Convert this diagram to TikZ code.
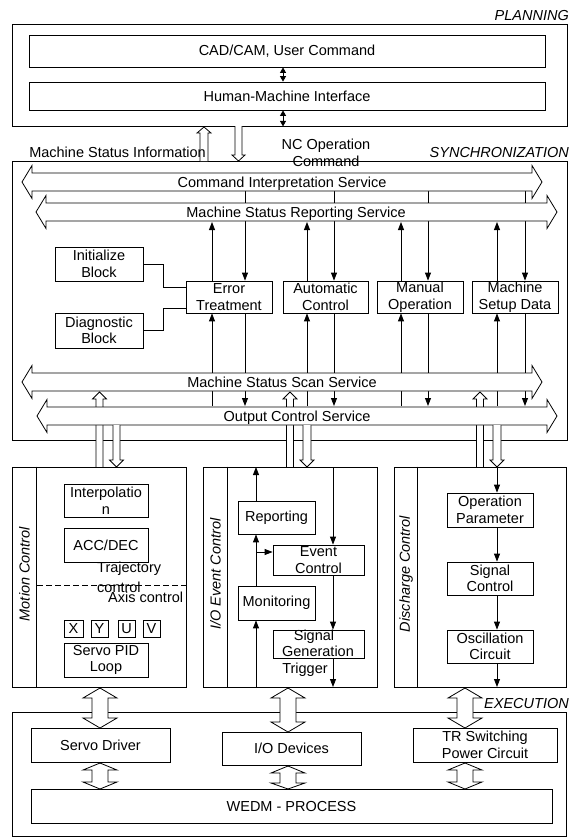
\documentclass[tikz,border=0pt]{standalone}
\usepackage{fontspec}
\setmainfont{Liberation Sans}
\usetikzlibrary{arrows.meta,fit}
\newcommand\fs{\fontsize{14.5}{16.5}\selectfont}
% horizontal hollow double arrow: x1 x2 ycenter
\newcommand\hdarr[3]{%
 \draw[svc] (#1,#3) -- (#1+10,#3-16.5) -- (#1+10,#3-9) -- (#2-10,#3-9) -- (#2-10,#3-16.5) -- (#2,#3) -- (#2-10,#3+16.5) -- (#2-10,#3+9) -- (#1+10,#3+9) -- (#1+10,#3+16.5) -- cycle;}
% vertical hollow single arrow: xc ytail ybase ytip shafthalf headhalf
\newcommand\varr[6]{%
 \draw[svc] (#1-#5,#2) -- (#1-#5,#3) -- (#1-#6,#3) -- (#1,#4) -- (#1+#6,#3) -- (#1+#5,#3) -- (#1+#5,#2);}
% vertical hollow double arrow: xc ytip1 ybase1 ybase2 ytip2 shafthalf headhalf
\newcommand\vdarr[7]{%
 \draw[svc] (#1,#2) -- (#1+#7,#3) -- (#1+#6,#3) -- (#1+#6,#4) -- (#1+#7,#4) -- (#1,#5) -- (#1-#7,#4) -- (#1-#6,#4) -- (#1-#6,#3) -- (#1-#7,#3) -- cycle;}
\tikzset{
 bx/.style={draw, fill=white, inner sep=0pt, align=center, font=\fs, line width=0.8pt},
 bxs/.style 2 args={bx, minimum width=#1pt, minimum height=#2pt},
 sect/.style={draw, inner sep=0pt, line width=0.8pt},
 txt/.style={font=\fs, inner sep=0pt},
 lab/.style={font=\fs\itshape, inner sep=0pt},
 svc/.style={draw, fill=white, line width=0.8pt},
 ar/.style={line width=0.9pt, -{Triangle[length=8pt,width=6pt]}},
 dar/.style={line width=0.9pt, {Triangle[length=5.5pt,width=6pt]}-{Triangle[length=5.5pt,width=6pt]}},
 ln/.style={line width=0.8pt},
 dashln/.style={line width=0.9pt, dash pattern=on 6pt off 3pt}
}
\begin{document}
\begin{tikzpicture}[x=1pt,y=-1pt]
\useasboundingbox (0,0) rectangle (580,839);
% ---------------- PLANNING
\node[sect, fit={(12,24) (567,126)}] (plan) {};
\node[bxs={516}{32}] (cad) at (287,51) {CAD/CAM, User Command};
\node[bxs={516}{28}] (hmi) at (287,96) {Human-Machine Interface};
\coordinate (ax) at (283,0);
\draw[dar] (cad.south -| ax) -- (hmi.north -| ax);
\draw[dar] (hmi.south -| ax) -- (plan.south -| ax);
\node[lab, anchor=base east] (planl) at (569,20) {PLANNING};
% ---------------- SYNCHRONIZATION
\node[txt, align=center] (nc) at (326,153) {NC Operation\\Command};
\node[sect, fit={(12,161) (567,440)}] (sync) {};
\node[lab, anchor=base east] (syncl) at (569,157) {SYNCHRONIZATION};
\varr{204}{161}{133}{127}{4}{7}
\varr{238.5}{126}{155}{161}{3.5}{6.5}
\node[txt, anchor=base east] (msi) at (206,157) {Machine Status Information};
\node[bxs={88}{34}] (ib) at (99,264) {Initialize\\Block};
\node[bxs={88}{35}] (db) at (99,330.5) {Diagnostic\\Block};
\node[bxs={86}{32}] (et) at (229,297) {Error\\Treatment};
\node[bxs={85}{32}] (ac) at (325.5,297) {Automatic\\Control};
\node[bxs={86}{32}] (mo) at (420,297) {Manual\\Operation};
\node[bxs={86}{32}] (ms) at (515,297) {Machine\\Setup Data};
\coordinate (j1) at (163,287);
\coordinate (j2) at (163,308);
\draw[ln] (ib.east) -| (j1) -- (j1 -| et.west);
\draw[ln] (db.east) -| (j2) -- (j2 -| et.west);
\coordinate (cmdb) at (0,191);
\coordinate (stb) at (0,222);
\coordinate (outt) at (0,406);
\coordinate (u1) at (212,0); \coordinate (d1) at (245,0);
\coordinate (u2) at (307,0); \coordinate (d2) at (334,0);
\coordinate (u3) at (401,0); \coordinate (d3) at (428,0);
\coordinate (u4) at (497,0); \coordinate (d4) at (525,0);
\foreach \b/\u/\d in {et/u1/d1, ac/u2/d2, mo/u3/d3, ms/u4/d4}{
  \draw[ar] (cmdb -| \d) -- (\b.north -| \d);
  \draw[ar] (\b.north -| \u) -- (stb -| \u);
  \draw[ar] (outt -| \u) -- (\b.south -| \u);
  \draw[ar] (\b.south -| \d) -- (outt -| \d);
}
\hdarr{22}{542}{182}
\node[txt, anchor=base] (cis) at (282,187.5) {Command Interpretation Service};
\hdarr{36}{557}{212}
\node[txt, anchor=base] (msr) at (296,217.5) {Machine Status Reporting Service};
\hdarr{22}{542}{382}
\node[txt, anchor=base] (mss) at (282,387.5) {Machine Status Scan Service};
\varr{99.5}{467}{399}{392}{3.5}{7}
\varr{290}{467}{399}{392}{3.5}{7}
\varr{480}{467}{399}{392}{3.5}{7}
\hdarr{37}{557}{416}
\node[txt, anchor=base] (ocs) at (297,421.5) {Output Control Service};
\varr{116.5}{425}{460}{467}{3.5}{7}
\varr{307}{425}{460}{467}{4}{7}
\varr{497}{425}{460}{467}{4}{7}
% ---------------- MOTION CONTROL
\node[sect, fit={(12,467) (186,687)}] (mc) {};
\draw[ln] ([xshift=25pt]mc.north west) -- ([xshift=25pt]mc.south west);
\node[lab, rotate=90] (mcl) at (24.5,574) {Motion Control};
\node[bxs={84}{33}] (ip) at (106,500.5) {Interpolatio\\n};
\node[bxs={84}{34}] (acc) at (106,545) {ACC/DEC};
\node[txt, anchor=base west] (tr1) at (97,572) {Trajectory};
\node[txt, anchor=base west] (tr2) at (97,592) {control};
\node[txt, anchor=base west] (axc) at (108,602) {Axis control};
\coordinate (dl1) at (37,585);
\draw[dashln] (dl1) -- (dl1 -| mc.east);
\node[bxs={19}{17}] (bxx) at (73.5,628.5) {X};
\node[bxs={17}{17}] (bxy) at (99.5,628.5) {Y};
\node[bxs={17}{17}] (bxu) at (126.5,628.5) {U};
\node[bxs={17}{17}] (bxv) at (151.5,628.5) {V};
\node[bxs={84}{34}] (pid) at (106,660) {Servo PID\\Loop};
% ---------------- I/O EVENT CONTROL
\node[sect, fit={(203,467) (377,687)}] (ioc) {};
\draw[ln] ([xshift=25pt]ioc.north west) -- ([xshift=25pt]ioc.south west);
\node[lab, rotate=90] (iol) at (215.5,574) {I/O Event Control};
\node[bxs={77}{33}] (rep) at (276.5,517.5) {Reporting};
\node[bxs={91}{30}] (ec) at (318.5,560) {Event\\Control};
\node[bxs={77}{34}] (mon) at (276.5,603) {Monitoring};
\node[sect, fit={(273,630) (364,658)}] (sg) {};
\node[txt, anchor=base] (sg1) at (314,640) {Signal};
\node[txt, anchor=base] (sg2) at (318,656.5) {Generation};
\node[txt, anchor=base] (trg) at (305,673) {Trigger};
\coordinate (iobot) at (256,687);
\coordinate (iotop) at (256,467);
\coordinate (br) at (256,552);
\draw[ar] (iobot) -- (mon.south -| iobot);
\draw[ar] (mon.north -| iobot) -- (rep.south -| iobot);
\draw[ar] (rep.north -| iobot) -- (iotop);
\draw[ar] (br) -- (br -| ec.west);
\coordinate (ix) at (333,467);
\draw[ar] (ix) -- (ec.north -| ix);
\draw[ar] (ec.south -| ix) -- (sg.north -| ix);
\draw[ar] (sg.south -| ix) -- (ix |- iobot);
% ---------------- DISCHARGE CONTROL
\node[sect, fit={(394,467) (566,687)}] (dc) {};
\draw[ln] ([xshift=24pt]dc.north west) -- ([xshift=24pt]dc.south west);
\node[lab, rotate=90] (dcl) at (406,574) {Discharge Control};
\node[bxs={86}{34}] (op) at (490,510) {Operation\\Parameter};
\node[bxs={86}{33}] (sc) at (490,578.5) {Signal\\Control};
\node[bxs={86}{33}] (osc) at (490,646.5) {Oscillation\\Circuit};
\coordinate (dtop) at (497,467);
\coordinate (dbot) at (497,687);
\draw[ar] (dtop) -- (op.north -| dtop);
\draw[ar] (op.south -| dtop) -- (sc.north -| dtop);
\draw[ar] (sc.south -| dtop) -- (osc.north -| dtop);
\draw[ar] (osc.south -| dtop) -- (dbot);
% ---------------- EXECUTION
\node[sect, fit={(12,712) (566,836)}] (ex) {};
\node[lab, anchor=base east] (exl) at (569,708) {EXECUTION};
\node[bxs={139}{34}] (sd) at (100.5,745) {Servo Driver};
\node[bxs={139}{33}] (iod) at (291.5,748.5) {I/O Devices};
\node[bxs={144}{34}] (trs) at (485,745) {TR Switching\\Power Circuit};
\node[bxs={521}{34}] (wedm) at (291.5,806) {WEDM - PROCESS};
\vdarr{100}{688}{698}{718}{728}{8}{17}
\vdarr{100}{763}{770}{782}{789}{8}{17}
\vdarr{288}{688}{698}{722}{732}{8}{17}
\vdarr{288}{766}{773}{783}{789}{8}{17}
\vdarr{465}{688}{698}{718}{728}{8}{17}
\vdarr{465}{763}{770}{782}{789}{8}{17}
\end{tikzpicture}
\end{document}
